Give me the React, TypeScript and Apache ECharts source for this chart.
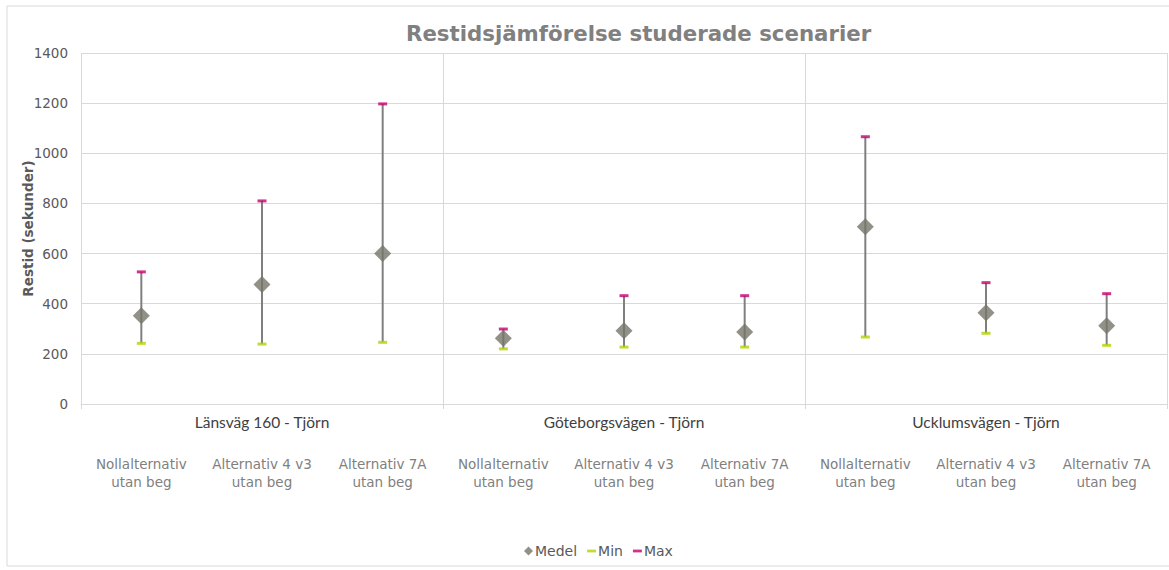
import React, { useEffect, useRef } from "react";
import * as echarts from "echarts";

const categories = [
  "Nollalternativ\nutan beg", "Alternativ 4 v3\nutan beg", "Alternativ 7A\nutan beg",
  "Nollalternativ\nutan beg", "Alternativ 4 v3\nutan beg", "Alternativ 7A\nutan beg",
  "Nollalternativ\nutan beg", "Alternativ 4 v3\nutan beg", "Alternativ 7A\nutan beg",
];
const groups = ["Länsväg 160 - Tjörn", "Göteborgsvägen - Tjörn", "Ucklumsvägen - Tjörn"];
const medelValues = [352, 477, 600, 262, 292, 287, 707, 364, 312];
const minValues = [242, 239, 246, 220, 227, 227, 267, 282, 234];
const maxValues = [527, 810, 1197, 299, 432, 432, 1066, 484, 440];
const yTicks = { min: 0, max: 1400, interval: 200 };

const GRID = "#d9d9d9";

export default function App() {
  const ref = useRef<HTMLDivElement>(null);
  useEffect(() => {
    if (!ref.current) return;
    const chart = echarts.init(ref.current, undefined, { renderer: "svg" });
    const rangeData = categories.map((_, i) => [i, minValues[i], maxValues[i]]);
    chart.setOption({
      animation: false,
      backgroundColor: "#ffffff",
      title: {
        text: "Restidsjämförelse studerade scenarier",
        left: 401,
        top: 18,
        textStyle: { fontFamily: "DejaVu Sans", fontSize: 21.3, fontWeight: "bold", color: "#808080" },
      },
      graphic: [
        {
          type: "rect",
          shape: { x: 7, y: 6, width: 1170, height: 560 },
          style: { fill: "none", stroke: GRID, lineWidth: 1 },
          silent: true,
          z: -1,
        },
      ],
      legend: {
        bottom: 7,
        left: 519,
        itemWidth: 9,
        itemHeight: 9,
        itemGap: 10,
        symbolKeepAspect: true,
        textStyle: { fontFamily: "DejaVu Sans", fontSize: 14, color: "#595959", padding: [0, 0, 0, -3] },
        data: [
          { name: "Medel", icon: "path://M4,0 L8,4 L4,8 L0,4 Z", itemStyle: { color: "#76766a" } },
          { name: "Min", icon: "path://M0,0 L8,0 L8,2.5 L0,2.5 Z", itemStyle: { color: "#b4d200" } },
          { name: "Max", icon: "path://M0,0 L8,0 L8,2.5 L0,2.5 Z", itemStyle: { color: "#c4006f" } },
        ],
      },
      grid: { left: 81, right: 2, top: 53, bottom: 166 },
      xAxis: [
        {
          type: "category",
          data: categories,
          axisLine: { show: true, lineStyle: { color: GRID } },
          axisTick: { show: false },
          splitLine: { show: false },
          axisLabel: {
            interval: 0,
            margin: 51,
            fontFamily: "DejaVu Sans",
            fontSize: 13.5,
            lineHeight: 18,
            color: "#808080",
          },
        },
        {
          type: "category",
          data: groups,
          position: "bottom",
          axisLine: { show: false },
          axisTick: { show: true, interval: 0, length: 5, lineStyle: { color: GRID } },
          splitLine: { show: true, interval: 0, lineStyle: { color: GRID } },
          axisLabel: {
            interval: 0,
            margin: 10,
            fontFamily: "Lato",
            fontSize: 15.5,
            color: "#404040",
          },
        },
      ],
      yAxis: {
        type: "value",
        min: yTicks.min,
        max: yTicks.max,
        interval: yTicks.interval,
        name: "Restid (sekunder)",
        nameLocation: "middle",
        nameRotate: 90,
        nameGap: 46,
        nameMoveOverlap: false,
        nameTextStyle: { fontFamily: "DejaVu Sans", fontSize: 13.5, fontWeight: "bold", color: "#595959" },
        axisLine: { show: false },
        axisTick: { show: false },
        splitLine: { lineStyle: { color: GRID } },
        axisLabel: {
          fontFamily: "DejaVu Sans",
          fontSize: 13.5,
          color: "#595959",
          margin: 13,
          formatter: (v: number) => String(v),
        },
      },
      series: [
        {
          type: "custom",
          name: "range",
          data: rangeData,
          encode: { x: 0, y: [1, 2] },
          renderItem: (params: any, api: any) => {
            const i = api.value(0);
            const p1 = api.coord([i, api.value(1)]);
            const p2 = api.coord([i, api.value(2)]);
            return {
              type: "line",
              shape: { x1: p1[0], y1: p1[1], x2: p2[0], y2: p2[1] },
              style: { stroke: "#7f7f7f", lineWidth: 2 },
            };
          },
          z: 1,
        },
        {
          type: "scatter",
          name: "Min",
          data: minValues,
          symbol: "rect",
          symbolSize: [9, 3],
          itemStyle: { color: "#b4d200" },
          z: 2,
        },
        {
          type: "scatter",
          name: "Max",
          data: maxValues,
          symbol: "rect",
          symbolSize: [9, 3],
          itemStyle: { color: "#c4006f" },
          z: 2,
        },
        {
          type: "scatter",
          name: "Medel",
          data: medelValues,
          symbol: "diamond",
          symbolSize: [17, 17],
          itemStyle: { color: "#76766a" },
          z: 3,
        },
      ],
    });
    return () => chart.dispose();
  }, []);
  return (
    <div
      ref={ref}
      style={{ position: "fixed", left: 0, top: 0, width: 1169, height: 570 }}
    />
  );
}
